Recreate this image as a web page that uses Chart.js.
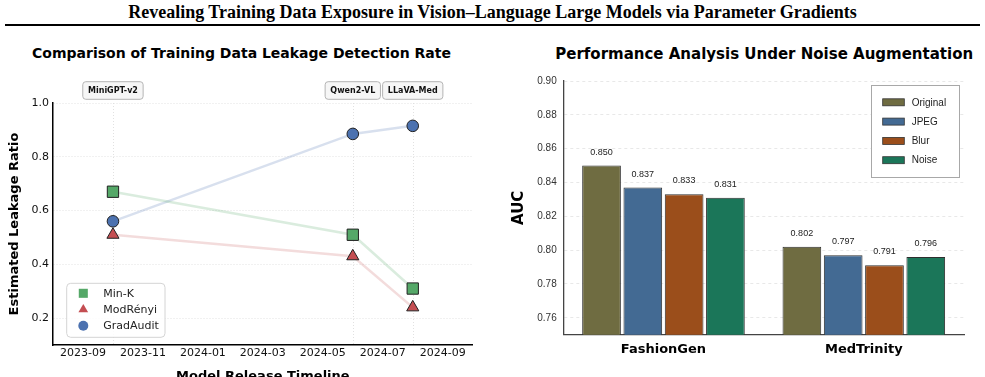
<!DOCTYPE html>
<html><head><meta charset="utf-8">
<script src="https://cdn.jsdelivr.net/npm/chart.js@4.4.1/dist/chart.umd.min.js"></script>
<style>
html,body{margin:0;padding:0;background:#fff;overflow:hidden;width:985px;height:377px;position:relative;}
#mainTitle{position:absolute;left:0;top:1px;width:985px;text-align:center;font:bold 18px "Liberation Serif","Times New Roman",serif;color:#000;line-height:22px;white-space:nowrap;}
#rule{position:absolute;left:5px;top:24px;width:975px;height:2px;background:#000;}
.subTitle{position:absolute;text-align:center;font-family:"DejaVu Sans",sans-serif;font-weight:bold;color:#000;white-space:nowrap;}
#titleL{left:-58.5px;top:45px;width:600px;font-size:14px;line-height:17px;}
#titleR{left:464.2px;top:45px;width:600px;font-size:15px;line-height:18px;}
#wrapL{position:absolute;left:0;top:0;width:490px;height:400px;}
#wrapR{position:absolute;left:490px;top:0;width:495px;height:377px;}
</style>
</head><body>
<div id="mainTitle">Revealing Training Data Exposure in Vision–Language Large Models via Parameter Gradients</div>
<div id="rule"></div>
<div id="titleL" class="subTitle">Comparison of Training Data Leakage Detection Rate</div>
<div id="titleR" class="subTitle">Performance Analysis Under Noise Augmentation</div>
<div id="wrapL"><canvas id="cL" width="490" height="400"></canvas></div>
<div id="wrapR"><canvas id="cR" width="495" height="377"></canvas></div>
<script>
// ---------- data: left chart ----------
const models = ['MiniGPT-v2', 'Qwen2-VL', 'LLaVA-Med'];
const releaseDates = ['2023-10', '2024-06', '2024-08'];
const minK = [0.67, 0.51, 0.31];
const modRenyi = [0.51, 0.43, 0.24];
const gradAudit = [0.56, 0.885, 0.915];
const dateTicks = ['2023-09', '2023-11', '2024-01', '2024-03', '2024-05', '2024-07', '2024-09'];
const dateRange = ['2023-08', '2024-10'];
const ratioTicks = [0.2, 0.4, 0.6, 0.8, 1.0];
const ratioRange = [0.1, 1.0];

// ---------- data: right chart ----------
const benchmarks = ['FashionGen', 'MedTrinity'];
const conditions = ['Original', 'JPEG', 'Blur', 'Noise'];
const aucOriginal = [0.850, 0.802];
const aucJPEG = [0.837, 0.797];
const aucBlur = [0.833, 0.791];
const aucNoise = [0.831, 0.796];
const aucTicks = [0.76, 0.78, 0.80, 0.82, 0.84, 0.86, 0.88, 0.90];
const aucRange = [0.75, 0.90];

// ---------- styles ----------
Chart.defaults.font.family = '"DejaVu Sans", sans-serif';
Chart.defaults.color = '#111';
const toMonth = s => { const p = s.split('-').map(Number); return (p[0] - 2023) * 12 + (p[1] - 1); };

function drawMarker(ctx, style, r, x, y, fill, stroke, bw) {
  ctx.save();
  ctx.fillStyle = fill; ctx.strokeStyle = stroke || fill; ctx.lineWidth = bw || 0;
  Chart.helpers.drawPoint(ctx, {pointStyle: style, radius: r, rotation: 0, borderWidth: bw || 0}, x, y);
  ctx.restore();
}

function series(label, values, color, lineColor, style, radius) {
  return {
    label: label,
    data: releaseDates.map((d, i) => ({x: toMonth(d), y: values[i]})),
    borderColor: lineColor, borderWidth: 2.5, tension: 0, fill: false,
    pointStyle: style, pointRadius: radius, pointHoverRadius: radius,
    pointBackgroundColor: color, pointBorderColor: '#222', pointBorderWidth: 1,
    legendRadius: style === 'rect' ? 6.4 : (style === 'triangle' ? 5.6 : 5)
  };
}

const leftPlugin = {
  id: 'leftDeco',
  beforeDatasetsDraw(chart) {
    const {ctx, chartArea: ca, scales: {x}} = chart;
    ctx.save();
    ctx.strokeStyle = '#d9d9d9'; ctx.lineWidth = 0.8; ctx.setLineDash([1, 2]);
    releaseDates.forEach(d => {
      const px = Math.round(x.getPixelForValue(toMonth(d))) + 0.5;
      ctx.beginPath(); ctx.moveTo(px, ca.top); ctx.lineTo(px, ca.bottom); ctx.stroke();
    });
    ctx.restore();
  },
  afterDraw(chart) {
    const {ctx, chartArea: ca, scales: {x}} = chart;
    // model annotation boxes
    ctx.save();
    ctx.font = 'bold 8px "DejaVu Sans"';
    ctx.textAlign = 'center'; ctx.textBaseline = 'middle';
    models.forEach((m, i) => {
      const px = x.getPixelForValue(toMonth(releaseDates[i]));
      const tw = ctx.measureText(m).width;
      const w = tw + 10.4, h = 17.6, cy = 90.5;
      ctx.beginPath();
      ctx.roundRect(px - w / 2, cy - h / 2, w, h, 3);
      ctx.fillStyle = '#f6f6f6'; ctx.fill();
      ctx.strokeStyle = '#b4b4b4'; ctx.lineWidth = 1; ctx.stroke();
      ctx.fillStyle = '#111';
      ctx.fillText(m, px, cy + 0.5);
    });
    ctx.restore();
    // legend
    const bx = ca.left + 13.7, by = ca.bottom - 7.7 - 54, bw = 98.3, bh = 54;
    ctx.save();
    ctx.beginPath(); ctx.roundRect(bx, by, bw, bh, 4);
    ctx.fillStyle = 'rgba(255,255,255,0.85)'; ctx.fill();
    ctx.strokeStyle = '#d4d4d4'; ctx.lineWidth = 1; ctx.stroke();
    ctx.font = '11px "DejaVu Sans"'; ctx.textAlign = 'left'; ctx.textBaseline = 'middle';
    chart.data.datasets.forEach((ds, i) => {
      const cy = by + 10 + i * 16.2;
      drawMarker(ctx, ds.pointStyle, ds.legendRadius, bx + 16.6, cy, ds.pointBackgroundColor);
      ctx.fillStyle = '#222';
      ctx.fillText(ds.label, bx + 36.6, cy + 0.5);
    });
    ctx.restore();
  }
};

new Chart(document.getElementById('cL'), {
  type: 'line',
  data: {
    datasets: [
      series('Min-K', minK, '#55A868', 'rgba(85,168,104,0.22)', 'rect', 8),
      series('ModRényi', modRenyi, '#C44E52', 'rgba(196,78,82,0.2)', 'triangle', 7),
      series('GradAudit', gradAudit, '#4C72B0', 'rgba(76,114,176,0.22)', 'circle', 5.8)
    ]
  },
  options: {
    responsive: false, animation: false, devicePixelRatio: 1,
    layout: {padding: {left: 0, top: 103, right: 17.3, bottom: 0}},
    plugins: {legend: {display: false}, tooltip: {enabled: false}, title: {display: false}},
    scales: {
      x: {
        type: 'linear', min: toMonth(dateRange[0]), max: toMonth(dateRange[1]),
        afterBuildTicks: s => { s.ticks = dateTicks.map(d => ({value: toMonth(d)})); },
        afterFit: s => { s.height = 55; },
        grid: {display: false, drawTicks: false},
        border: {display: true, color: '#000', width: 1.5},
        ticks: {font: {size: 11}, color: '#111', padding: 2, maxRotation: 0, autoSkip: false,
          callback: (v, i) => dateTicks[i]},
        title: {display: true, text: 'Model Release Timeline', font: {size: 13, weight: 'bold'}, color: '#000',
          padding: {top: 0, bottom: 15.5}}
      },
      y: {
        type: 'linear', min: ratioRange[0], max: ratioRange[1],
        afterBuildTicks: s => { s.ticks = ratioTicks.map(v => ({value: v})); },
        afterFit: s => { s.width = 53; },
        grid: {color: '#dcdcdc', lineWidth: 0.8, drawTicks: false},
        border: {display: true, color: '#000', width: 1.5, dash: [1, 2]},
        ticks: {font: {size: 11}, color: '#111', padding: 4, callback: v => v.toFixed(1)},
        title: {display: true, text: 'Estimated Leakage Ratio', font: {size: 13, weight: 'bold'}, color: '#000',
          padding: {top: 7, bottom: 0}}
      }
    }
  },
  plugins: [leftPlugin]
});

// ---------- right chart ----------
const barColors = ['#6F6C41', '#436A93', '#9B4E1B', '#1B7659'];
const aucSeries = [aucOriginal, aucJPEG, aucBlur, aucNoise];

const rightPlugin = {
  id: 'rightDeco',
  afterDatasetsDraw(chart) {
    const {ctx} = chart;
    ctx.save();
    ctx.font = '9px "Liberation Sans", Arial, sans-serif';
    ctx.fillStyle = '#222'; ctx.textAlign = 'center'; ctx.textBaseline = 'middle';
    chart.data.datasets.forEach((ds, di) => {
      chart.getDatasetMeta(di).data.forEach((bar, i) => {
        ctx.fillText(ds.data[i].toFixed(3), bar.x, bar.y - 13.5);
      });
    });
    ctx.restore();
  },
  afterDraw(chart) {
    const {ctx, chartArea: ca} = chart;
    const bw = 88.3, bh = 92, bx = ca.right - 4.7 - bw, by = ca.top + 4;
    ctx.save();
    ctx.fillStyle = '#fff'; ctx.fillRect(bx, by, bw, bh);
    ctx.strokeStyle = '#a8a8a8'; ctx.lineWidth = 1;
    ctx.strokeRect(Math.round(bx) + 0.5, Math.round(by) + 0.5, Math.round(bw), Math.round(bh));
    ctx.font = '10px "Liberation Sans", Arial, sans-serif';
    ctx.textAlign = 'left'; ctx.textBaseline = 'middle';
    chart.data.datasets.forEach((ds, i) => {
      const cy = by + 17.3 + i * 19.3;
      ctx.fillStyle = ds.backgroundColor;
      ctx.fillRect(bx + 11.7, cy - 3.5, 21.6, 7);
      ctx.strokeStyle = '#333'; ctx.lineWidth = 0.8;
      ctx.strokeRect(bx + 11.7, cy - 3.5, 21.6, 7);
      ctx.fillStyle = '#222';
      ctx.fillText(ds.label, bx + 40.7, cy + 0.5);
    });
    ctx.restore();
  }
};

new Chart(document.getElementById('cR'), {
  type: 'bar',
  data: {
    labels: benchmarks,
    datasets: conditions.map((c, i) => ({
      label: c, data: aucSeries[i], backgroundColor: barColors[i],
      borderColor: '#2e2e2e', borderWidth: 1, borderSkipped: false
    }))
  },
  options: {
    responsive: false, animation: false, devicePixelRatio: 1,
    layout: {padding: {left: 0, top: 81, right: 21, bottom: 0}},
    plugins: {legend: {display: false}, tooltip: {enabled: false}, title: {display: false}},
    datasets: {bar: {categoryPercentage: 0.8245, barPercentage: 0.937}},
    scales: {
      x: {
        type: 'category', offset: true,
        afterFit: s => { s.height = 42.3; },
        grid: {display: false, drawTicks: false},
        border: {display: true, color: '#444', width: 1.3},
        ticks: {font: {size: 13, weight: 'bold'}, color: '#000', padding: 7.5}
      },
      y: {
        type: 'linear', min: aucRange[0], max: aucRange[1],
        afterBuildTicks: s => { s.ticks = aucTicks.map(v => ({value: v})); },
        afterFit: s => { s.width = 73.3; },
        grid: {color: '#e3e3e3', lineWidth: 0.8, drawTicks: false},
        border: {display: true, color: '#444', width: 1.3, dash: [3, 3]},
        ticks: {font: {size: 10, family: '"Liberation Sans", Arial, sans-serif'}, color: '#333', padding: 6.6,
          callback: v => v.toFixed(2)},
        title: {display: true, text: 'AUC', font: {size: 15, weight: 'bold'}, color: '#000',
          padding: {top: 20.2, bottom: 0}}
      }
    }
  },
  plugins: [rightPlugin]
});
</script>
</body></html>
